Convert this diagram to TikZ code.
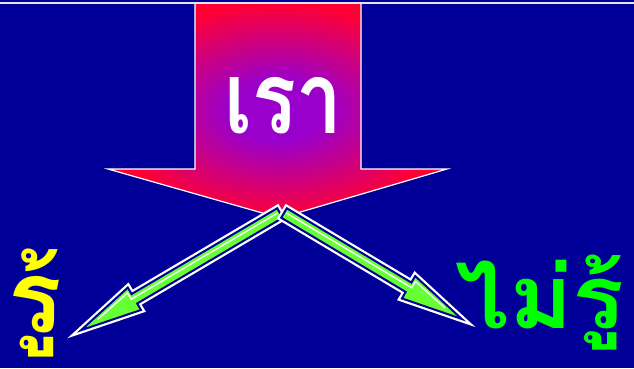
\documentclass[tikz,border=0pt]{standalone}
\usepackage{fontspec}
\usepackage{graphicx}
\newfontfamily\thaifont[Script=Thai]{Loma}
\definecolor{bgblue}{HTML}{000099}
\definecolor{redc}{HTML}{FF0033}
\definecolor{purp}{HTML}{9900CC}
\definecolor{arrgreen}{HTML}{66FF33}
\definecolor{txtgreen}{HTML}{00FF00}
\definecolor{txtyellow}{HTML}{FFFF00}
\pgfdeclareradialshading{bigshade}{\pgfpoint{0bp}{0bp}}{color(0bp)=(purp); color(7bp)=(purp); color(25bp)=(redc); color(50bp)=(redc)}
\tikzset{
  thaitxt/.style={inner sep=0pt, anchor=base west},
}
% #1 start, #2 angle, #3 length, #4 side of inner highlight (1 or -1)
\newcommand{\greenarrow}[4]{%
  \begin{scope}[shift={#1}, rotate=#2]
    \path[draw=white, line width=6.5pt, line join=miter]
      (0pt,-5.5pt) -- (#3pt-62pt,-5.5pt) -- (#3pt-62pt,-13pt) -- (#3pt,0pt) -- (#3pt-62pt,13pt) -- (#3pt-62pt,5.5pt) -- (0pt,5.5pt) -- cycle;
    \path[draw=bgblue, line width=2pt, fill=arrgreen, line join=miter]
      (0pt,-5.5pt) -- (#3pt-62pt,-5.5pt) -- (#3pt-62pt,-13pt) -- (#3pt,0pt) -- (#3pt-62pt,13pt) -- (#3pt-62pt,5.5pt) -- (0pt,5.5pt) -- cycle;
    \draw[white, line width=1.4pt, line join=miter]
      (2pt,#4*1.2pt) -- (#3pt-59pt,#4*1.2pt) -- (#3pt-59pt,#4*8.5pt) -- (#3pt-20pt,#4*0.8pt);
  \end{scope}}
\begin{document}
\begin{tikzpicture}[x=1pt, y=-1pt]
  \fill[bgblue] (0,0) rectangle (634,368);
  \useasboundingbox (0,0) rectangle (634,368);
  % big arrow
  \path[shading=bigshade, draw=white, line width=1.2pt]
    (195,3) -- (361,3) -- (361,169) -- (447,169) -- (280,218) -- (108,169) -- (195,169) -- cycle;
  \draw[white!90!bgblue, line width=1.5pt] (0,3) -- (634,3);
  \node[thaitxt, text=white] (rao) at (224,133) {\scalebox{0.82}[1]{\thaifont\bfseries\fontsize{100}{100}\selectfont เรา}};
  % green arrows
  \greenarrow{(280,213)}{210.5}{231}{-1}
  \greenarrow{(284,213)}{-30.8}{207}{1}
  \node[thaitxt, text=txtyellow] (ru) at (8,332) {\thaifont\bfseries\fontsize{100}{100}\selectfont รู้};
  \node[thaitxt, text=txtgreen] (mairu) at (455,328) {\scalebox{1.1}[1]{\thaifont\bfseries\fontsize{88}{88}\selectfont ไม่รู้}};
\end{tikzpicture}
\end{document}
